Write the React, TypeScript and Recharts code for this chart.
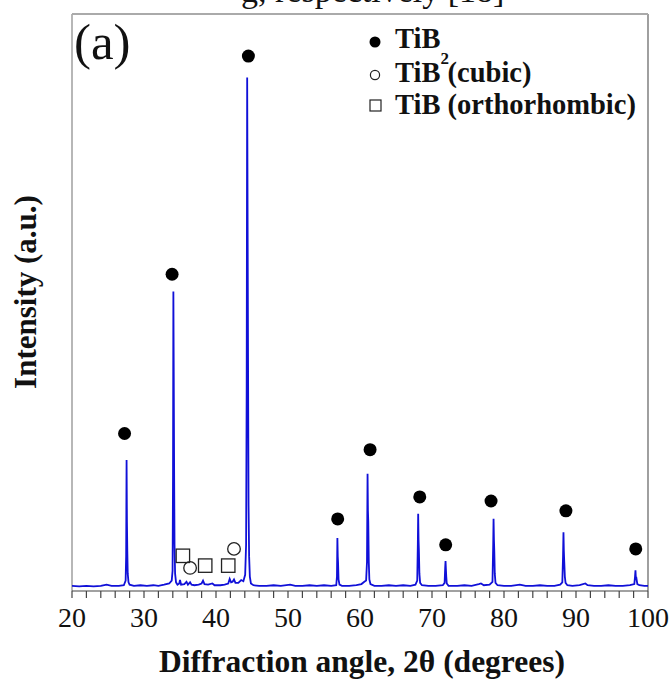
import React from 'react';
import { ComposedChart, Line, Scatter, XAxis, YAxis, ReferenceLine } from 'recharts';

// XRD profile, [2θ, intensity]
const profile: [number, number][] = [
  [20.0, 0.9], [21.0, 0.8], [22.0, 0.9], [23.0, 0.8], [24.0, 0.9], [24.8, 1.1], [25.5, 0.9], [26.5, 0.9],
  [27.2, 1.0], [27.45, 1.8], [27.52, 6], [27.58, 22.7], [27.63, 12], [27.68, 7], [27.74, 3], [27.85, 1.5],
  [28.0, 1.1], [28.6, 0.9], [29.5, 1.0], [30.4, 0.9], [31.3, 1.0], [32.0, 0.9], [32.8, 1.1], [33.5, 1.3],
  [33.85, 1.8], [33.97, 3.5], [34.03, 20], [34.08, 51.9], [34.13, 38], [34.18, 22], [34.24, 8], [34.32, 3],
  [34.45, 1.5], [34.65, 1.1], [34.9, 1.3], [35.0, 1.9], [35.15, 1.1], [35.6, 1.2], [35.9, 1.6], [36.1, 1.1],
  [36.4, 1.5], [36.6, 1.1], [37.0, 1.0], [37.6, 1.1], [38.0, 1.3], [38.2, 1.8], [38.4, 1.2], [38.9, 1.1],
  [39.5, 1.3], [39.8, 1.0], [40.6, 1.0], [41.2, 1.1], [41.7, 1.3], [41.9, 2.1], [42.1, 1.5], [42.3, 1.6],
  [42.5, 2.0], [42.7, 1.4], [43.1, 1.4], [43.5, 1.9], [43.8, 1.7], [44.05, 2.8], [44.18, 8], [44.26, 35],
  [44.33, 89], [44.4, 60], [44.45, 40], [44.52, 15], [44.6, 6], [44.7, 2.5], [44.85, 1.3], [45.2, 1.0],
  [46, 0.9], [47, 0.9], [48, 1.0], [49, 0.9], [50.3, 1.1], [51, 0.9], [52, 0.9], [53, 1.0], [54, 0.9],
  [55, 1.0], [56, 0.9], [56.7, 1.0], [56.8, 2.5], [56.86, 9.2], [56.91, 6], [56.95, 5], [57.02, 2],
  [57.15, 1.1], [57.5, 0.9], [58.5, 0.9], [59.5, 1.0], [60.2, 1.2], [60.6, 1.6], [60.85, 1.8], [60.97, 5],
  [61.05, 20.3], [61.1, 14], [61.15, 12], [61.22, 5], [61.3, 2], [61.45, 1.2], [62, 0.9], [63, 0.9],
  [64, 1.0], [65, 0.9], [66, 1.0], [67, 0.9], [67.7, 1.1], [67.95, 1.8], [68.03, 8], [68.08, 13.4],
  [68.13, 9], [68.18, 7], [68.25, 3], [68.35, 1.4], [68.6, 1.0], [69.5, 0.9], [70.5, 0.9], [71.5, 1.0],
  [71.75, 1.4], [71.83, 4], [71.88, 5.2], [71.93, 3.8], [71.98, 2.5], [72.05, 1.3], [72.3, 0.9], [73.5, 0.9],
  [74.5, 1.0], [75.5, 0.9], [76.5, 1.2], [76.8, 1.3], [77.2, 1.0], [78.0, 1.1], [78.4, 1.6], [78.5, 8],
  [78.55, 12.5], [78.6, 9], [78.65, 7], [78.72, 3], [78.82, 1.4], [79.1, 1.0], [80, 0.9], [81, 0.9],
  [82.2, 1.1], [83, 0.9], [84, 0.9], [85, 1.0], [86, 0.9], [87, 0.9], [87.8, 1.1], [88.1, 1.5], [88.2, 6],
  [88.26, 10.2], [88.31, 7], [88.37, 5], [88.45, 2.5], [88.55, 1.4], [88.8, 1.0], [89.5, 0.9], [90.5, 1.0],
  [91.3, 1.3], [91.6, 1.0], [92.5, 0.9], [93.5, 0.9], [94.5, 1.0], [95.5, 0.9], [96.5, 0.9], [97.5, 1.0],
  [98.1, 1.2], [98.2, 2.5], [98.26, 3.6], [98.31, 2.3], [98.38, 2.3], [98.44, 1.8], [98.52, 1.2], [98.8, 1.0],
  [99.5, 0.9], [100, 0.9],
];

// phase markers [2θ, height]
const tib2Marks: [number, number][] = [
  [27.3, 27.3], [33.9, 54.9], [44.5, 92.7], [56.9, 12.5], [61.4, 24.5],
  [68.3, 16.3], [71.9, 8.0], [78.2, 15.6], [88.6, 13.9], [98.3, 7.3],
];
const cubicMarks: [number, number][] = [[36.4, 4.0], [42.5, 7.3]];
const orthoMarks: [number, number][] = [[35.4, 6.1], [38.5, 4.4], [41.7, 4.4]];

const xTicks = [20, 22, 24, 26, 28, 30, 32, 34, 36, 38, 40, 42, 44, 46, 48, 50, 52, 54, 56, 58, 60,
  62, 64, 66, 68, 70, 72, 74, 76, 78, 80, 82, 84, 86, 88, 90, 92, 94, 96, 98, 100];

const toRows = (pts: [number, number][]) => pts.map(([angle, v]) => ({ angle, v }));

const SERIF = '"Liberation Serif", "Times New Roman", serif';
const LINE_BLUE = '#1010d8';

const AngleTick = (props: any) => {
  const { x, y, payload } = props;
  const major = payload.value % 10 === 0;
  return (
    <g>
      <line x1={x} x2={x} y1={y} y2={y + 7} stroke="#444" strokeWidth={1.2} />
      {major && (
        <text x={x} y={y + 36} textAnchor="middle" fontFamily={SERIF} fontSize={28} fill="#111">
          {payload.value}
        </text>
      )}
    </g>
  );
};

const FilledDot = (p: any) => <circle cx={p.cx} cy={p.cy} r={6.5} fill="#000" />;
const OpenDot = (p: any) => <circle cx={p.cx} cy={p.cy} r={6.3} fill="none" stroke="#222" strokeWidth={1.3} />;
const OpenSquare = (p: any) => (
  <rect x={p.cx - 6.7} y={p.cy - 6.7} width={13.4} height={13.4} fill="none" stroke="#222" strokeWidth={1.3} />
);

export default function App() {
  const rows = toRows(profile);
  return (
    <div style={{ position: 'absolute', left: 0, top: 0, width: 672, height: 679, background: '#fff', overflow: 'hidden' }}>
      <ComposedChart width={672} height={679} margin={{ top: 14, right: 24, bottom: 28, left: 72 }}>
        <XAxis
          dataKey="angle"
          type="number"
          domain={[20, 100]}
          ticks={xTicks}
          interval={0}
          allowDataOverflow
          height={60}
          tickLine={false}
          tickSize={0}
          tickMargin={0}
          axisLine={{ stroke: '#444', strokeWidth: 1.2 }}
          tick={<AngleTick />}
        />
        <YAxis type="number" domain={[0, 100]} width={0} tick={false} tickLine={false} axisLine={false} />
        <ReferenceLine x={20} stroke="#999" strokeWidth={1.4} />
        <ReferenceLine x={100} stroke="#888" strokeWidth={1.6} />
        <ReferenceLine y={100} stroke="#aaa" strokeWidth={1.8} />
        <Line data={rows} dataKey="v" type="linear" stroke={LINE_BLUE} strokeWidth={1.8} dot={false} isAnimationActive={false} />
        <Scatter data={toRows(tib2Marks)} dataKey="v" shape={<FilledDot />} isAnimationActive={false} />
        <Scatter data={toRows(cubicMarks)} dataKey="v" shape={<OpenDot />} isAnimationActive={false} />
        <Scatter data={toRows(orthoMarks)} dataKey="v" shape={<OpenSquare />} isAnimationActive={false} />
      </ComposedChart>
      <svg width={672} height={679} style={{ position: 'absolute', left: 0, top: 0, pointerEvents: 'none' }}>
        <text x={241} y={2} fontFamily={SERIF} fontSize={34} fill="#111">g, respectively [18]</text>
        <text x={74} y={59} fontFamily={SERIF} fontSize={51} fill="#111">(a)</text>
        {/* legend */}
        <circle cx={375} cy={42} r={5.5} fill="#000" />
        <text x={395} y={48} fontFamily={SERIF} fontSize={28.5} fontWeight="bold" fill="#111">
          TiB<tspan fontSize={17} dy={16}>2</tspan>
        </text>
        <circle cx={375} cy={75} r={4.6} fill="none" stroke="#222" strokeWidth={1.2} />
        <text x={395} y={82} fontFamily={SERIF} fontSize={28.5} fontWeight="bold" fill="#111">TiB (cubic)</text>
        <rect x={370} y={100} width={11} height={11} fill="none" stroke="#222" strokeWidth={1.2} />
        <text x={395} y={114} fontFamily={SERIF} fontSize={28.5} fontWeight="bold" fill="#111">TiB (orthorhombic)</text>
        {/* axis titles */}
        <text x={362} y={672} textAnchor="middle" fontFamily={SERIF} fontSize={31.5} fontWeight="bold" fill="#111">
          Diffraction angle, 2θ (degrees)
        </text>
        <text
          x={0}
          y={0}
          transform="translate(36, 292) rotate(-90)"
          textAnchor="middle"
          fontFamily={SERIF}
          fontSize={31}
          fontWeight="bold"
          fill="#111"
        >
          Intensity (a.u.)
        </text>
      </svg>
    </div>
  );
}
